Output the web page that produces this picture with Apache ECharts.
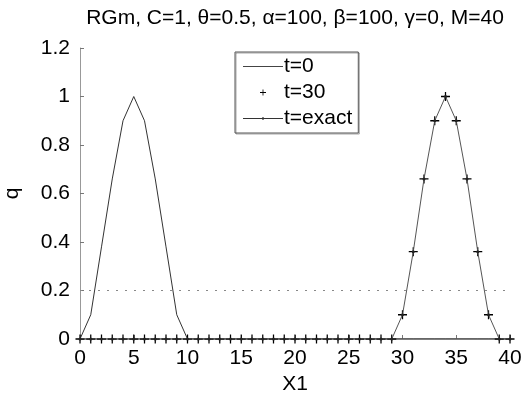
<!DOCTYPE html>
<html>
<head>
<meta charset="utf-8">
<script src="https://cdn.jsdelivr.net/npm/echarts@6/dist/echarts.min.js"></script>
<style>
  html, body { margin: 0; padding: 0; background: #fff; }
  #chart { width: 528px; height: 396px; }
</style>
</head>
<body>
<div id="chart"></div>
<script>
// grid points along X1
const x1 = [0, 1, 2, 3, 4, 5, 6, 7, 8, 9, 10, 11, 12, 13, 14, 15, 16, 17, 18, 19, 20,
  21, 22, 23, 24, 25, 26, 27, 28, 29, 30, 31, 32, 33, 34, 35, 36, 37, 38, 39, 40];

// q at t=0
const qT0 = [0, 0.1, 0.38, 0.66, 0.9, 1, 0.9, 0.66, 0.38, 0.1, 0, 0, 0, 0, 0, 0, 0, 0, 0, 0, 0,
  0, 0, 0, 0, 0, 0, 0, 0, 0, 0, 0, 0, 0, 0, 0, 0, 0, 0, 0, 0];

// q at t=30
const qT30 = [0, 0, 0, 0, 0, 0, 0, 0, 0, 0, 0, 0, 0, 0, 0, 0, 0, 0, 0, 0, 0,
  0, 0, 0, 0, 0, 0, 0, 0, 0, 0.1, 0.36, 0.66, 0.9, 1, 0.9, 0.66, 0.36, 0.1, 0, 0];

// exact solution
const qExact = [0, 0, 0, 0, 0, 0, 0, 0, 0, 0, 0, 0, 0, 0, 0, 0, 0, 0, 0, 0, 0,
  0, 0, 0, 0, 0, 0, 0, 0, 0, 0.1, 0.36, 0.66, 0.9, 1, 0.9, 0.66, 0.36, 0.1, 0, 0];

const refLevel = 0.2;

const pairs = (ys) => x1.map((x, i) => [x, ys[i]]);

const plusSymbol = 'path://M4.3,0H5.7V4.3H10V5.7H5.7V10H4.3V5.7H0V4.3H4.3Z';
// tiny corner anchors keep the legend icons from being stretched
const anchors = 'M0,0L0.01,0L0,0.01Z M40,10L39.99,10L40,9.99Z ';
const lineIcon = 'path://' + anchors + 'M0,4.6H40V5.4H0Z';
const lineDotIcon = 'path://' + anchors + 'M0,4.6H40V5.4H0Z M21.2,5A1.2,1.2,0,1,1,18.8,5A1.2,1.2,0,1,1,21.2,5Z';
const plusIcon = 'path://' + anchors + 'M19.6,2H20.4V4.6H23V5.4H20.4V8H19.6V5.4H17V4.6H19.6Z';

const font = 'Liberation Sans, Arial, sans-serif';

const chart = echarts.init(document.getElementById('chart'));

const option = {
  animation: false,
  backgroundColor: '#fff',
  title: {
    text: 'RGm, C=1, θ=0.5, α=100, β=100, γ=0, M=40',
    left: 290,
    top: 3,
    textAlign: 'center',
    textStyle: { fontFamily: font, fontSize: 21, fontWeight: 'normal', color: '#000' }
  },
  legend: {
    orient: 'vertical',
    left: 235,
    top: 52,
    padding: [4, 6, 4, 8],
    itemGap: 5,
    itemWidth: 40,
    itemHeight: 10,
    borderColor: '#555',
    borderWidth: 1,
    shadowColor: 'rgba(0,0,0,0.35)',
    shadowOffsetX: 1,
    shadowOffsetY: 1,
    textStyle: { fontFamily: font, fontSize: 21, color: '#000', padding: [0, 0, 0, -4] },
    data: [
      { name: 't=0', icon: lineIcon, itemStyle: { color: '#444' } },
      { name: 't=30', icon: plusIcon, itemStyle: { color: '#000' } },
      { name: 't=exact', icon: lineDotIcon, itemStyle: { color: '#333' } }
    ]
  },
  grid: { left: 80, right: 18, top: 48, bottom: 57, outerBoundsMode: 'none' },
  xAxis: {
    type: 'value',
    min: 0,
    max: 40,
    interval: 5,
    name: 'X1',
    nameLocation: 'middle',
    nameGap: 34,
    nameTextStyle: { fontFamily: font, fontSize: 21, color: '#000' },
    axisLine: { lineStyle: { color: '#999', width: 2 } },
    axisTick: { inside: true, length: 4, lineStyle: { color: '#777', width: 1 } },
    axisLabel: { fontFamily: font, fontSize: 21, color: '#000', margin: 9 },
    splitLine: { show: false }
  },
  yAxis: {
    type: 'value',
    min: 0,
    max: 1.2,
    interval: 0.2,
    name: 'q',
    nameLocation: 'middle',
    nameGap: 57,
    nameTextStyle: { fontFamily: font, fontSize: 21, color: '#000' },
    axisLine: { show: true, lineStyle: { color: '#999', width: 1 } },
    axisTick: { show: true, inside: true, length: 4, lineStyle: { color: '#777', width: 1 } },
    axisLabel: { fontFamily: font, fontSize: 21, color: '#000', margin: 10 },
    splitLine: { show: false }
  },
  series: [
    {
      name: 't=0',
      type: 'line',
      data: pairs(qT0),
      showSymbol: false,
      symbol: 'none',
      lineStyle: { color: '#333', width: 1 },
      itemStyle: { color: '#333' },
      markLine: {
        silent: true,
        symbol: 'none',
        label: { show: false },
        lineStyle: { color: '#888', type: [2, 7], width: 1 },
        data: [{ yAxis: refLevel }]
      }
    },
    {
      name: 't=exact',
      type: 'line',
      data: pairs(qExact),
      symbol: 'circle',
      symbolSize: 3,
      lineStyle: { color: '#555', width: 1 },
      itemStyle: { color: '#222' }
    },
    {
      name: 't=30',
      type: 'scatter',
      data: pairs(qT30),
      symbol: plusSymbol,
      symbolSize: 9,
      itemStyle: { color: '#000', opacity: 1 }
    }
  ]
};

chart.setOption(option);
</script>
</body>
</html>
